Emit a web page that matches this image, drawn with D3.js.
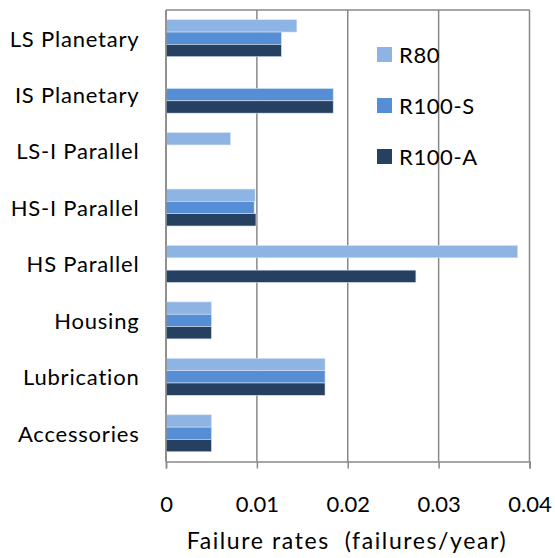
<!DOCTYPE html>
<html>
<head>
<meta charset="utf-8">
<script src="https://cdn.jsdelivr.net/npm/d3@7"></script>
<style>
	body { margin: 0; background: #fff; }
	text { font-family: Lato, "Open Sans", sans-serif; fill: #000; }
</style>
</head>
<body>
<script>
const categories = ['LS Planetary', 'IS Planetary', 'LS-I Parallel', 'HS-I Parallel',
	'HS Parallel', 'Housing', 'Lubrication', 'Accessories'];
const seriesNames = ['R80', 'R100-S', 'R100-A'];
const r80   = [0.0144, 0,      0.0071, 0.0098, 0.0387, 0.005, 0.0175, 0.005];
const r100S = [0.0127, 0.0184, 0,      0.0097, 0,      0.005, 0.0175, 0.005];
const r100A = [0.0127, 0.0184, 0,      0.0099, 0.0275, 0.005, 0.0175, 0.005];
const xTicks = [0, 0.01, 0.02, 0.03, 0.04];
const colors = ['#8eb4e3', '#558ed5', '#254061'];

const width = 555, height = 558;
const plotLeft = 166, plotRight = 529.5, plotTop = 10, plotBottom = 461.5;
const fontSize = 22;

let svg = d3.select('body').append('svg')
	.attr('width', width)
	.attr('height', height);

let x = d3.scaleLinear().domain([0, 0.04]).range([plotLeft, plotRight]);
let y = d3.scaleBand().domain(categories).range([plotTop, plotBottom]).paddingInner(0.345).paddingOuter(0.1725);
let ySub = d3.scaleBand().domain(seriesNames).range([0, y.bandwidth()]);

// gridlines
svg.append('g')
	.selectAll('line')
	.data(xTicks)
	.enter().append('line')
	.attr('x1', d => x(d))
	.attr('x2', d => x(d))
	.attr('y1', plotTop)
	.attr('y2', plotBottom)
	.style('stroke', '#888')
	.style('stroke-width', 1.5);

// top border
svg.append('line')
	.attr('x1', plotLeft).attr('x2', plotRight)
	.attr('y1', plotTop).attr('y2', plotTop)
	.style('stroke', '#888')
	.style('stroke-width', 1.5);

// bars
let rows = categories.map((c, i) => ({ cat: c, values: [r80[i], r100S[i], r100A[i]] }));
let group = svg.append('g')
	.selectAll('g')
	.data(rows)
	.enter().append('g')
	.attr('transform', d => `translate(0,${y(d.cat)})`);

group.selectAll('rect')
	.data(d => d.values.map((v, j) => ({ name: seriesNames[j], value: v, j: j })).filter(d => d.value > 0))
	.enter().append('rect')
	.attr('x', x(0))
	.attr('y', d => ySub(d.name))
	.attr('width', d => x(d.value) - x(0))
	.attr('height', ySub.bandwidth())
	.style('fill', d => colors[d.j])
	.style('stroke', '#d6e3f3')
	.style('stroke-width', 0.6);

// x axis
let xAxis = d3.axisBottom(x)
	.tickValues(xTicks)
	.tickFormat(d => d === 0 ? '0' : d3.format('.2f')(d))
	.tickSize(7)
	.tickPadding(28);

let gx = svg.append('g')
	.attr('transform', `translate(0,${plotBottom})`)
	.call(xAxis);
gx.select('.domain').style('stroke', '#888').style('stroke-width', 1.5);
gx.selectAll('.tick line').style('stroke', '#888').style('stroke-width', 1.5);
gx.selectAll('.tick text')
	.style('font-family', 'Lato, "Open Sans", sans-serif')
	.style('font-size', fontSize + 'px')
	.style('fill', '#000');

// left axis line
svg.append('line')
	.attr('x1', plotLeft).attr('x2', plotLeft)
	.attr('y1', plotTop).attr('y2', plotBottom)
	.style('stroke', '#888')
	.style('stroke-width', 1.5);

// category labels
svg.append('g')
	.selectAll('text')
	.data(categories)
	.enter().append('text')
	.attr('x', 139.5)
	.attr('y', d => y(d) + y.bandwidth() / 2)
	.attr('dy', '0.38em')
	.attr('text-anchor', 'end')
	.style('font-size', fontSize + 'px')
	.style('letter-spacing', '0.8px')
	.text(d => d);

// axis title
svg.append('text')
	.attr('x', 347)
	.attr('y', 549)
	.attr('text-anchor', 'middle')
	.attr('xml:space', 'preserve')
	.style('font-size', (fontSize + 1) + 'px')
	.style('letter-spacing', '1.6px')
	.style('white-space', 'pre')
	.text('Failure rates  (failures/year)');

// legend
let legend = svg.append('g')
	.selectAll('g')
	.data(seriesNames)
	.enter().append('g')
	.attr('transform', (d, i) => `translate(377,${47 + i * 51})`);

legend.append('rect')
	.attr('width', 15)
	.attr('height', 15)
	.style('fill', (d, i) => colors[i]);

legend.append('text')
	.attr('x', 22)
	.attr('y', 15.5)
	.style('font-size', fontSize + 'px')
	.style('letter-spacing', '0.6px')
	.text(d => d);
</script>
</body>
</html>
